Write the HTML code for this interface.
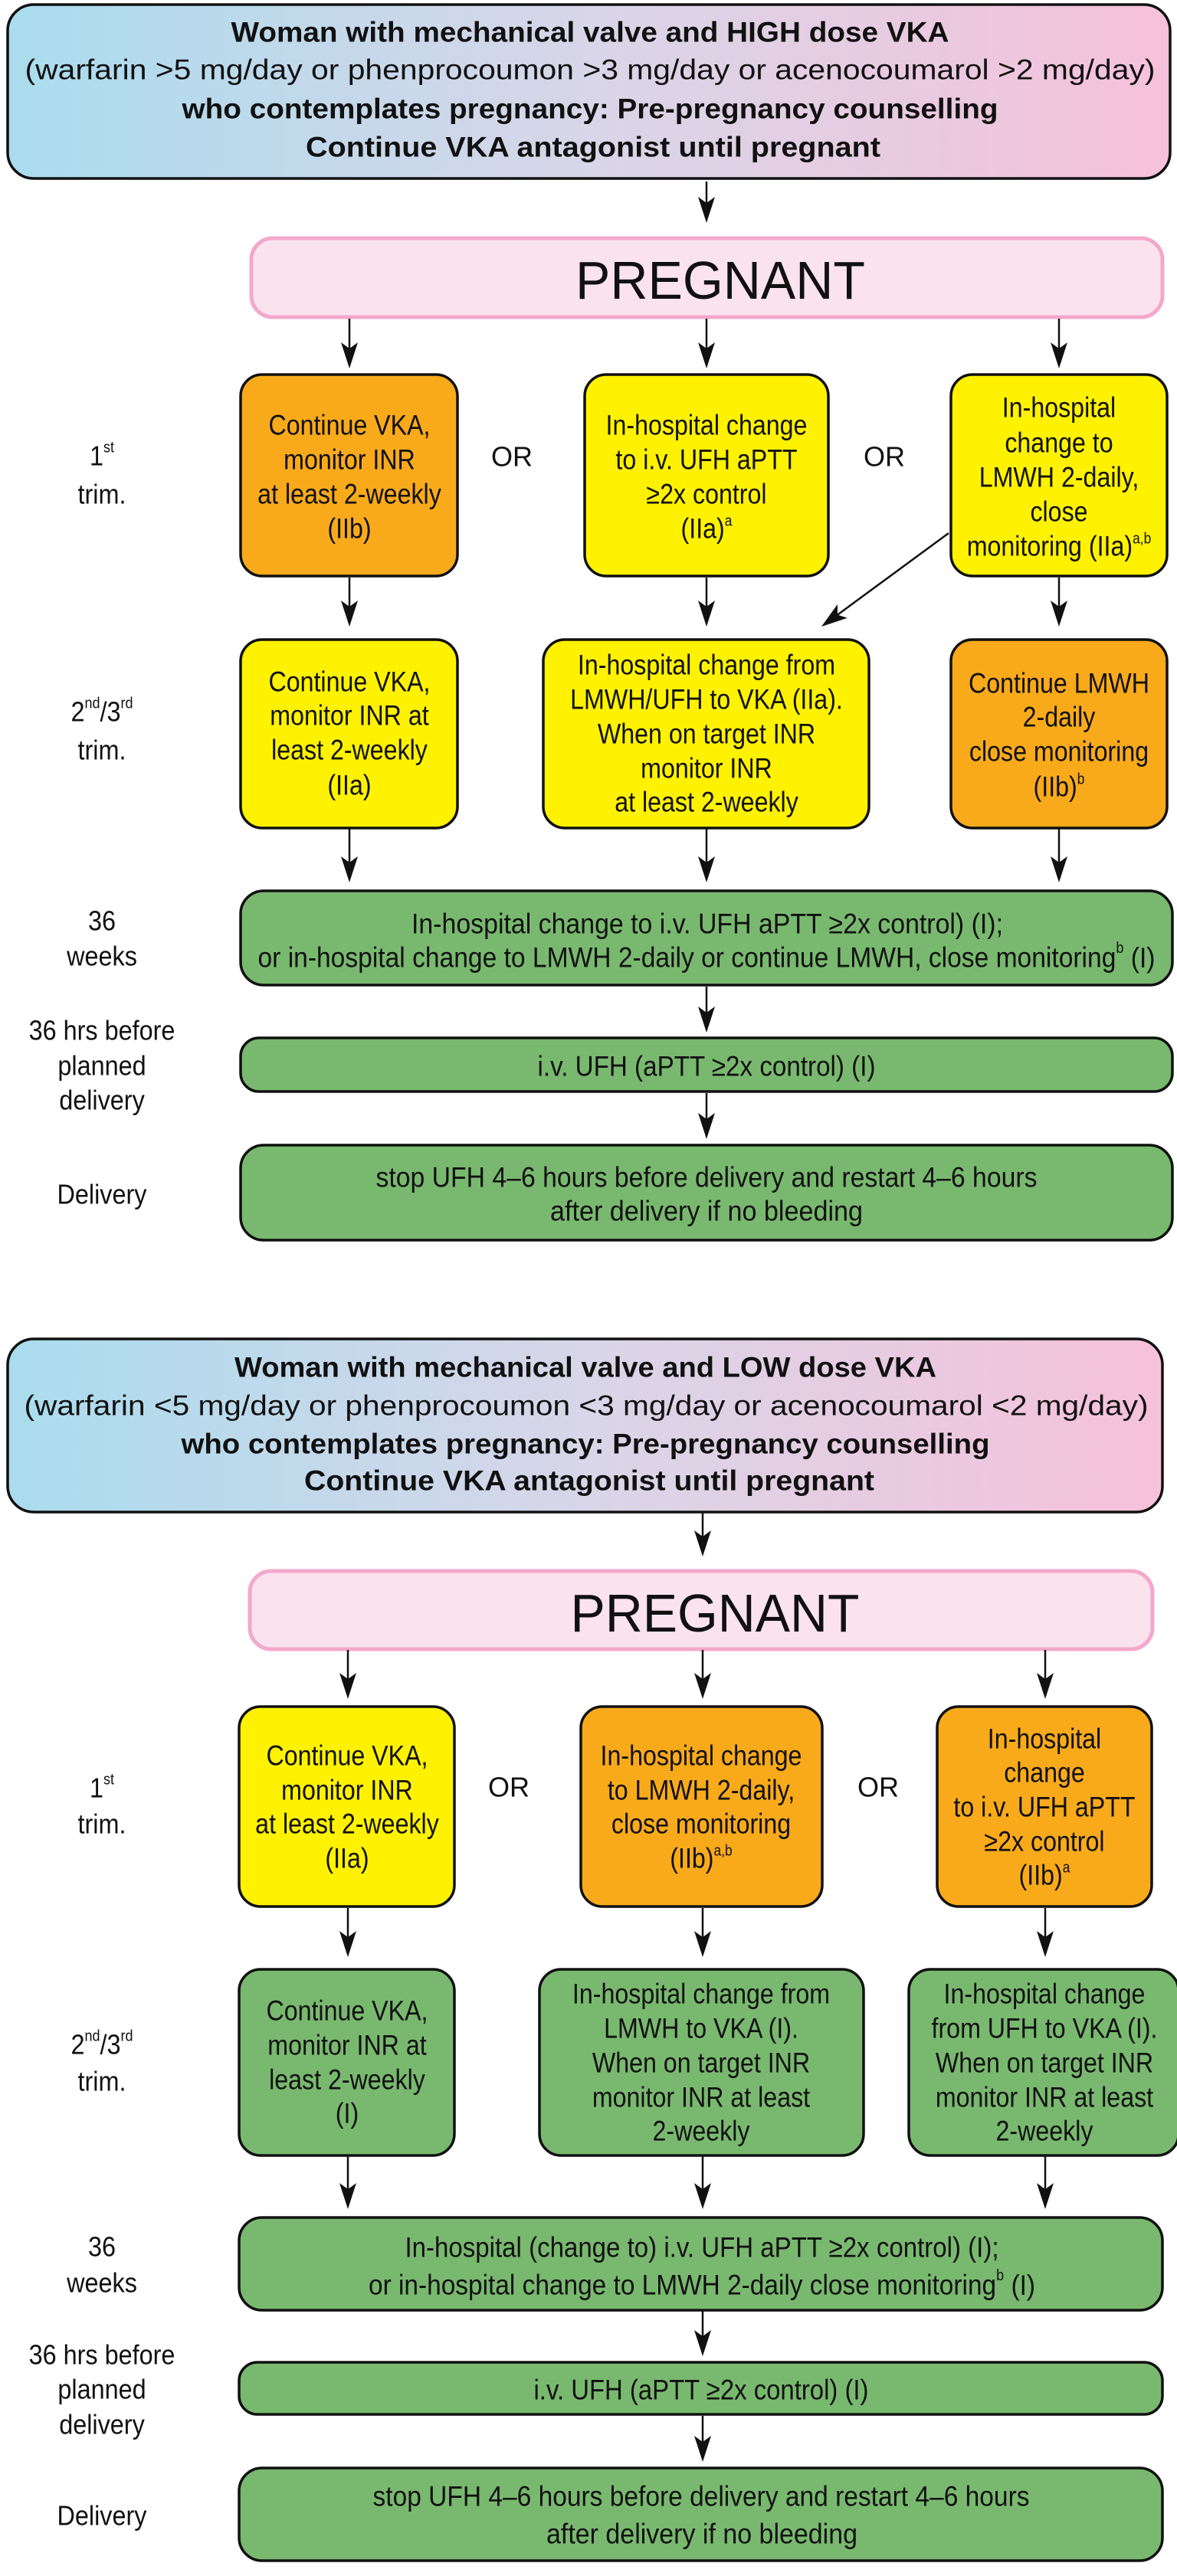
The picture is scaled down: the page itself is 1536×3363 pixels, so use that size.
<!DOCTYPE html>
<html><head><meta charset="utf-8"><style>
html,body{margin:0;padding:0;background:#fff;}
svg{display:block;}
text{font-family:"Liberation Sans Narrow","Liberation Sans",sans-serif;fill:#111;}
.b{font-weight:bold;}
.t{font-size:37px;}
.h{font-size:37px;}
.l{font-size:36px;}
</style></head><body>
<svg width="1536" height="3363" viewBox="0 0 1536 3363" xmlns="http://www.w3.org/2000/svg">
<defs>
<linearGradient id="g" x1="0" y1="0" x2="1" y2="0">
<stop offset="0" stop-color="#a9dcee"/><stop offset="0.5" stop-color="#d8d6e8"/><stop offset="1" stop-color="#f6c1da"/>
</linearGradient>
</defs>
<g stroke="#111" stroke-width="3.5">
<rect x="10" y="6" width="1517" height="227" rx="34" fill="url(#g)"/>
<rect x="328" y="311" width="1189" height="103" rx="28" fill="#fbe3ee" stroke="#f3a8cb" stroke-width="5"/>
<rect x="314" y="489" width="283" height="263" rx="28" fill="#f9aa1b"/>
<rect x="763" y="489" width="318" height="263" rx="28" fill="#fff200"/>
<rect x="1241" y="489" width="282" height="263" rx="28" fill="#fff200"/>
<rect x="314" y="835" width="283" height="246" rx="28" fill="#fff200"/>
<rect x="709" y="835" width="425" height="246" rx="28" fill="#fff200"/>
<rect x="1241" y="835" width="282" height="246" rx="28" fill="#f9aa1b"/>
<rect x="314" y="1163" width="1216" height="123" rx="30" fill="#79b96f"/>
<rect x="314" y="1355" width="1216" height="70" rx="24" fill="#79b96f"/>
<rect x="314" y="1495" width="1216" height="124" rx="30" fill="#79b96f"/>

<rect x="10" y="1748" width="1507" height="226" rx="34" fill="url(#g)"/>
<rect x="326" y="2051" width="1178" height="102" rx="28" fill="#fbe3ee" stroke="#f3a8cb" stroke-width="5"/>
<rect x="312" y="2228" width="281" height="261" rx="28" fill="#fff200"/>
<rect x="758" y="2228" width="315" height="261" rx="28" fill="#f9aa1b"/>
<rect x="1223" y="2228" width="280" height="261" rx="28" fill="#f9aa1b"/>
<rect x="312" y="2571" width="281" height="243" rx="28" fill="#79b96f"/>
<rect x="704" y="2571" width="423" height="243" rx="28" fill="#79b96f"/>
<rect x="1186" y="2571" width="352" height="243" rx="28" fill="#79b96f"/>
<rect x="312" y="2895" width="1205" height="121" rx="30" fill="#79b96f"/>
<rect x="312" y="3084" width="1205" height="68" rx="24" fill="#79b96f"/>
<rect x="312" y="3222" width="1205" height="121" rx="30" fill="#79b96f"/>
</g>

<g stroke="#111" stroke-width="2.5" fill="none">
<path d="M922 237V265M456 416V455M922 416V455M1382 416V455M456 754V792M922 754V792M1382 754V792M1238 696L1093 802.6M456 1081V1126M922 1081V1126M1382 1081V1126M922 1288V1322M922 1427V1461"/>
<path d="M917 1975V2006M454 2154V2192M917 2154V2192M1364 2154V2192M454 2491V2529M917 2491V2529M1364 2491V2529M454 2815V2858M917 2815V2858M1364 2815V2858M917 3017V3050M917 3154V3188"/>
</g>
<g fill="#111">
<path d="M911 257L922 291L933 257L922 265Z"/>
<path d="M445 447L456 481L467 447L456 455Z M911 447L922 481L933 447L922 455Z M1371 447L1382 481L1393 447L1382 455Z"/>
<path d="M445 784L456 818L467 784L456 792Z M911 784L922 818L933 784L922 792Z M1371 784L1382 818L1393 784L1382 792Z"/>
<path d="M1105.9 806.8L1072 818L1092.9 789L1093 802.6Z"/>
<path d="M445 1118L456 1152L467 1118L456 1126Z M911 1118L922 1152L933 1118L922 1126Z M1371 1118L1382 1152L1393 1118L1382 1126Z"/>
<path d="M911 1314L922 1348L933 1314L922 1322Z M911 1453L922 1487L933 1453L922 1461Z"/>
<path d="M906 1998L917 2032L928 1998L917 2006Z"/>
<path d="M443 2184L454 2218L465 2184L454 2192Z M906 2184L917 2218L928 2184L917 2192Z M1353 2184L1364 2218L1375 2184L1364 2192Z"/>
<path d="M443 2521L454 2555L465 2521L454 2529Z M906 2521L917 2555L928 2521L917 2529Z M1353 2521L1364 2555L1375 2521L1364 2529Z"/>
<path d="M443 2850L454 2884L465 2850L454 2858Z M906 2850L917 2884L928 2850L917 2858Z M1353 2850L1364 2884L1375 2850L1364 2858Z"/>
<path d="M906 3042L917 3076L928 3042L917 3050Z M906 3180L917 3214L928 3180L917 3188Z"/>
</g>

<g text-anchor="middle" dominant-baseline="central">
<!-- top 1 -->
<text class="b h" x="770" y="42" textLength="937" lengthAdjust="spacingAndGlyphs">Woman with mechanical valve and HIGH dose VKA</text>
<text class="h" x="770" y="91" textLength="1475" lengthAdjust="spacingAndGlyphs">(warfarin &gt;5 mg/day or phenprocoumon &gt;3 mg/day or acenocoumarol &gt;2 mg/day)</text>
<text class="b h" x="770" y="142" textLength="1065" lengthAdjust="spacingAndGlyphs">who contemplates pregnancy: Pre-pregnancy counselling</text>
<text class="b h" x="774" y="192" textLength="750" lengthAdjust="spacingAndGlyphs">Continue VKA antagonist until pregnant</text>
<text x="940" y="366" style="font-size:70px;font-family:'Liberation Sans',sans-serif" textLength="378" lengthAdjust="spacingAndGlyphs">PREGNANT</text>

<g transform="matrix(0.87 0 0 1 59.28 0)">
<text class="t" x="456" y="556">Continue VKA,</text>
<text class="t" x="456" y="601">monitor INR</text>
<text class="t" x="456" y="646">at least 2-weekly</text>
<text class="t" x="456" y="691">(IIb)</text>
<text class="t" x="456" y="891">Continue VKA,</text>
<text class="t" x="456" y="935">monitor INR at</text>
<text class="t" x="456" y="980">least 2-weekly</text>
<text class="t" x="456" y="1026">(IIa)</text>
</g>
<text class="l" x="668" y="596">OR</text>
<text class="l" x="1154" y="596">OR</text>
<g transform="matrix(0.87 0 0 1 119.86 0)">
<text class="t" x="922" y="556">In-hospital change</text>
<text class="t" x="922" y="601">to i.v. UFH aPTT</text>
<text class="t" x="922" y="646">≥2x control</text>
<text class="t" x="922" y="691">(IIa)<tspan font-size="20" dy="-12">a</tspan></text>
<text class="t" x="922" y="869">In-hospital change from</text>
<text class="t" x="922" y="914">LMWH/UFH to VKA (IIa).</text>
<text class="t" x="922" y="959">When on target INR</text>
<text class="t" x="922" y="1004">monitor INR</text>
<text class="t" x="922" y="1048">at least 2-weekly</text>
</g>
<g transform="matrix(0.87 0 0 1 179.66 0)">
<text class="t" x="1382" y="533">In-hospital</text>
<text class="t" x="1382" y="579">change to</text>
<text class="t" x="1382" y="624">LMWH 2-daily,</text>
<text class="t" x="1382" y="669">close</text>
<text class="t" x="1382" y="714">monitoring (IIa)<tspan font-size="20" dy="-12">a,b</tspan></text>
<text class="t" x="1382" y="893">Continue LMWH</text>
<text class="t" x="1382" y="937">2-daily</text>
<text class="t" x="1382" y="982">close monitoring</text>
<text class="t" x="1382" y="1028">(IIb)<tspan font-size="20" dy="-12">b</tspan></text>
</g>

<text class="t" x="923" y="1206" textLength="772" lengthAdjust="spacingAndGlyphs">In-hospital change to  i.v. UFH aPTT ≥2x control) (I);</text>
<text class="t" x="922" y="1250" textLength="1171" lengthAdjust="spacingAndGlyphs">or in-hospital change to LMWH 2-daily or continue LMWH, close monitoring<tspan font-size="20" dy="-12">b</tspan><tspan dy="12"> (I)</tspan></text>
<text class="t" x="922" y="1392" textLength="441" lengthAdjust="spacingAndGlyphs">i.v. UFH (aPTT ≥2x control) (I)</text>
<text class="t" x="922" y="1537" textLength="863" lengthAdjust="spacingAndGlyphs">stop UFH 4–6 hours before delivery and restart 4–6 hours</text>
<text class="t" x="922" y="1581" textLength="408" lengthAdjust="spacingAndGlyphs">after delivery if no bleeding</text>

<g transform="matrix(0.9 0 0 1 13.3 0)">
<text class="l" x="133" y="596">1<tspan font-size="20" dy="-12">st</tspan></text>
<text class="l" x="133" y="646">trim.</text>
<text class="l" x="133" y="930">2<tspan font-size="20" dy="-12">nd</tspan><tspan dy="12">/3</tspan><tspan font-size="20" dy="-12">rd</tspan></text>
<text class="l" x="133" y="980">trim.</text>
<text class="l" x="133" y="1203">36</text>
<text class="l" x="133" y="1249">weeks</text>
<text class="l" x="133" y="1346">36 hrs before</text>
<text class="l" x="133" y="1392">planned</text>
<text class="l" x="133" y="1437">delivery</text>
<text class="l" x="133" y="1560">Delivery</text>
<text class="l" x="133" y="2335">1<tspan font-size="20" dy="-12">st</tspan></text>
<text class="l" x="133" y="2382">trim.</text>
<text class="l" x="133" y="2670">2<tspan font-size="20" dy="-12">nd</tspan><tspan dy="12">/3</tspan><tspan font-size="20" dy="-12">rd</tspan></text>
<text class="l" x="133" y="2718">trim.</text>
<text class="l" x="133" y="2934">36</text>
<text class="l" x="133" y="2981">weeks</text>
<text class="l" x="133" y="3075">36 hrs before</text>
<text class="l" x="133" y="3120">planned</text>
<text class="l" x="133" y="3166">delivery</text>
<text class="l" x="133" y="3285">Delivery</text>
</g>

<!-- top 2 -->
<text class="b h" x="764" y="1785" textLength="916" lengthAdjust="spacingAndGlyphs">Woman with mechanical valve and LOW dose VKA</text>
<text class="h" x="765" y="1835" textLength="1467" lengthAdjust="spacingAndGlyphs">(warfarin &lt;5 mg/day or phenprocoumon &lt;3 mg/day or acenocoumarol &lt;2 mg/day)</text>
<text class="b h" x="764" y="1885" textLength="1055" lengthAdjust="spacingAndGlyphs">who contemplates pregnancy: Pre-pregnancy counselling</text>
<text class="b h" x="769" y="1933" textLength="744" lengthAdjust="spacingAndGlyphs">Continue VKA antagonist until pregnant</text>
<text x="933" y="2106" style="font-size:70px;font-family:'Liberation Sans',sans-serif" textLength="377" lengthAdjust="spacingAndGlyphs">PREGNANT</text>

<g transform="matrix(0.87 0 0 1 58.89 0)">
<text class="t" x="453" y="2293">Continue VKA,</text>
<text class="t" x="453" y="2338">monitor INR</text>
<text class="t" x="453" y="2382">at least 2-weekly</text>
<text class="t" x="453" y="2427">(IIa)</text>
<text class="t" x="453" y="2626">Continue VKA,</text>
<text class="t" x="453" y="2671">monitor INR at</text>
<text class="t" x="453" y="2716">least 2-weekly</text>
<text class="t" x="453" y="2760">(I)</text>
</g>
<text class="l" x="664" y="2333">OR</text>
<text class="l" x="1146" y="2333">OR</text>
<g transform="matrix(0.87 0 0 1 118.95 0)">
<text class="t" x="915" y="2293">In-hospital change</text>
<text class="t" x="915" y="2338">to LMWH 2-daily,</text>
<text class="t" x="915" y="2382">close monitoring</text>
<text class="t" x="915" y="2427">(IIb)<tspan font-size="20" dy="-12">a,b</tspan></text>
<text class="t" x="915" y="2604">In-hospital change from</text>
<text class="t" x="915" y="2649">LMWH to VKA (I).</text>
<text class="t" x="915" y="2694">When on target INR</text>
<text class="t" x="915" y="2739">monitor INR at least</text>
<text class="t" x="915" y="2783">2-weekly</text>
</g>
<g transform="matrix(0.87 0 0 1 177.19 0)">
<text class="t" x="1363" y="2271">In-hospital</text>
<text class="t" x="1363" y="2315">change</text>
<text class="t" x="1363" y="2360">to i.v. UFH aPTT</text>
<text class="t" x="1363" y="2405">≥2x control</text>
<text class="t" x="1363" y="2449">(IIb)<tspan font-size="20" dy="-12">a</tspan></text>
<text class="t" x="1363" y="2604">In-hospital change</text>
<text class="t" x="1363" y="2649">from UFH to VKA (I).</text>
<text class="t" x="1363" y="2694">When on target INR</text>
<text class="t" x="1363" y="2739">monitor INR at least</text>
<text class="t" x="1363" y="2783">2-weekly</text>
</g>

<text class="t" x="916" y="2934" textLength="775" lengthAdjust="spacingAndGlyphs">In-hospital (change to) i.v. UFH aPTT ≥2x control) (I);</text>
<text class="t" x="916" y="2983" textLength="870" lengthAdjust="spacingAndGlyphs">or in-hospital change to LMWH 2-daily close monitoring<tspan font-size="20" dy="-12">b</tspan><tspan dy="12"> (I)</tspan></text>
<text class="t" x="915" y="3120" textLength="437" lengthAdjust="spacingAndGlyphs">i.v. UFH (aPTT ≥2x control) (I)</text>
<text class="t" x="915" y="3259" textLength="857" lengthAdjust="spacingAndGlyphs">stop UFH 4–6 hours before delivery and restart 4–6 hours</text>
<text class="t" x="916" y="3308" textLength="406" lengthAdjust="spacingAndGlyphs">after delivery if no bleeding</text>
</g>
</svg>
</body></html>
